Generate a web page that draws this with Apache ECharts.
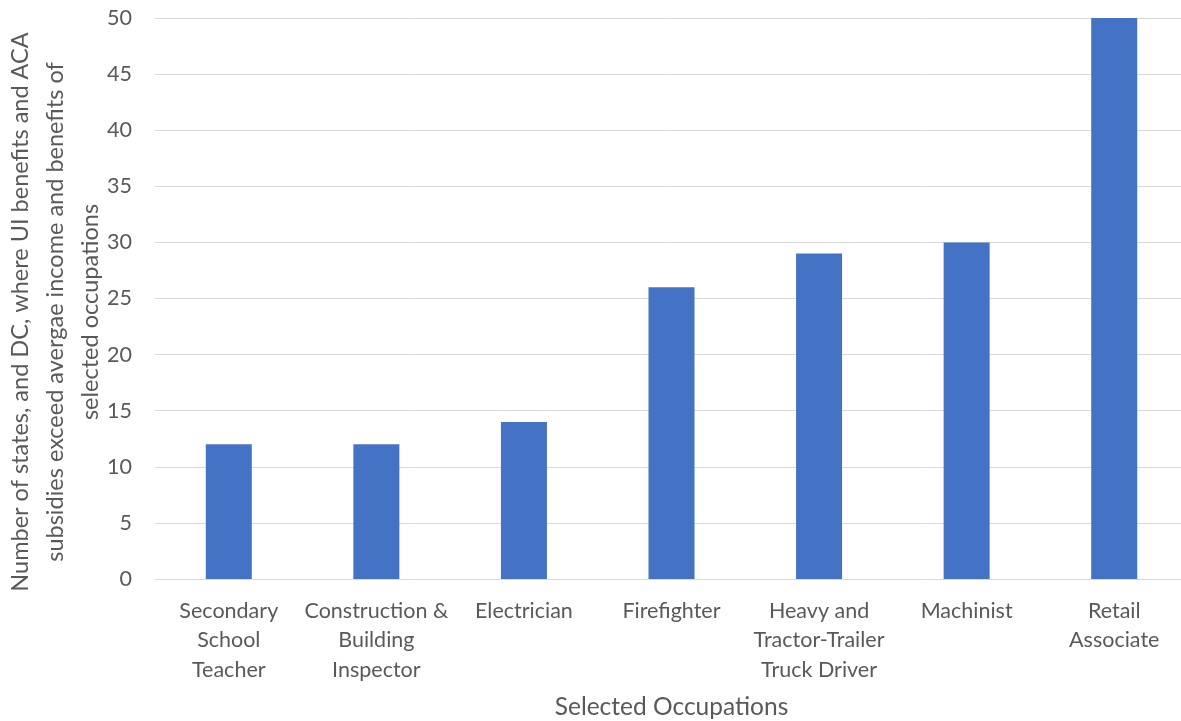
<!DOCTYPE html>
<html>
<head>
<meta charset="utf-8">
<script src="https://cdn.jsdelivr.net/npm/echarts@6/dist/echarts.min.js"></script>
<style>
  html, body { margin: 0; padding: 0; background: #fff; }
  #main { width: 1181px; height: 721px; }
</style>
</head>
<body>
<div id="main"></div>
<script>
var occupations = [
    'Secondary\nSchool\nTeacher',
    'Construction &\nBuilding\nInspector',
    'Electrician',
    'Firefighter',
    'Heavy and\nTractor-Trailer\nTruck Driver',
    'Machinist',
    'Retail\nAssociate'
];
var stateCounts = [12, 12, 14, 26, 29, 30, 50];
var yTitle = 'Number of states, and DC, where UI benefits and ACA\nsubsidies exceed avergae income and benefits of\nselected occupations';
var xTitle = 'Selected Occupations';

var textColor = '#595959';
var fontName = 'Lato';

var myChart = echarts.init(document.getElementById('main'));
var option = {
    animation: false,
    grid: {
        left: 155,
        top: 18,
        width: 1033,
        bottom: 142,
        outerBoundsMode: 'none'
    },
    // y axis title, placed by hand
    graphic: [{
        type: 'text',
        x: 55,
        y: 312,
        rotation: Math.PI / 2,
        style: {
            text: yTitle,
            fill: textColor,
            font: '23.5px Lato',
            lineHeight: 35,
            align: 'center',
            verticalAlign: 'middle'
        }
    }],
    xAxis: {
        type: 'category',
        data: occupations,
        name: xTitle,
        nameLocation: 'middle',
        nameGap: 116,
        nameTextStyle: { color: textColor, fontSize: 24.5, fontFamily: fontName },
        axisLine: { lineStyle: { color: '#d9d9d9', width: 1 } },
        axisTick: { show: false },
        axisLabel: {
            interval: 0,
            margin: 17,
            color: textColor,
            fontSize: 21.5,
            fontFamily: fontName,
            lineHeight: 29.5
        }
    },
    yAxis: {
        type: 'value',
        min: 0,
        max: 50,
        interval: 5,
        axisLine: { show: false },
        axisTick: { show: false },
        splitLine: { lineStyle: { color: '#d9d9d9', width: 1 } },
        axisLabel: {
            margin: 23,
            color: textColor,
            fontSize: 21.5,
            fontFamily: fontName
        }
    },
    series: [{
        type: 'bar',
        data: stateCounts,
        barWidth: 46,
        itemStyle: { color: '#4472c4' }
    }]
};
myChart.setOption(option);
</script>
</body>
</html>
